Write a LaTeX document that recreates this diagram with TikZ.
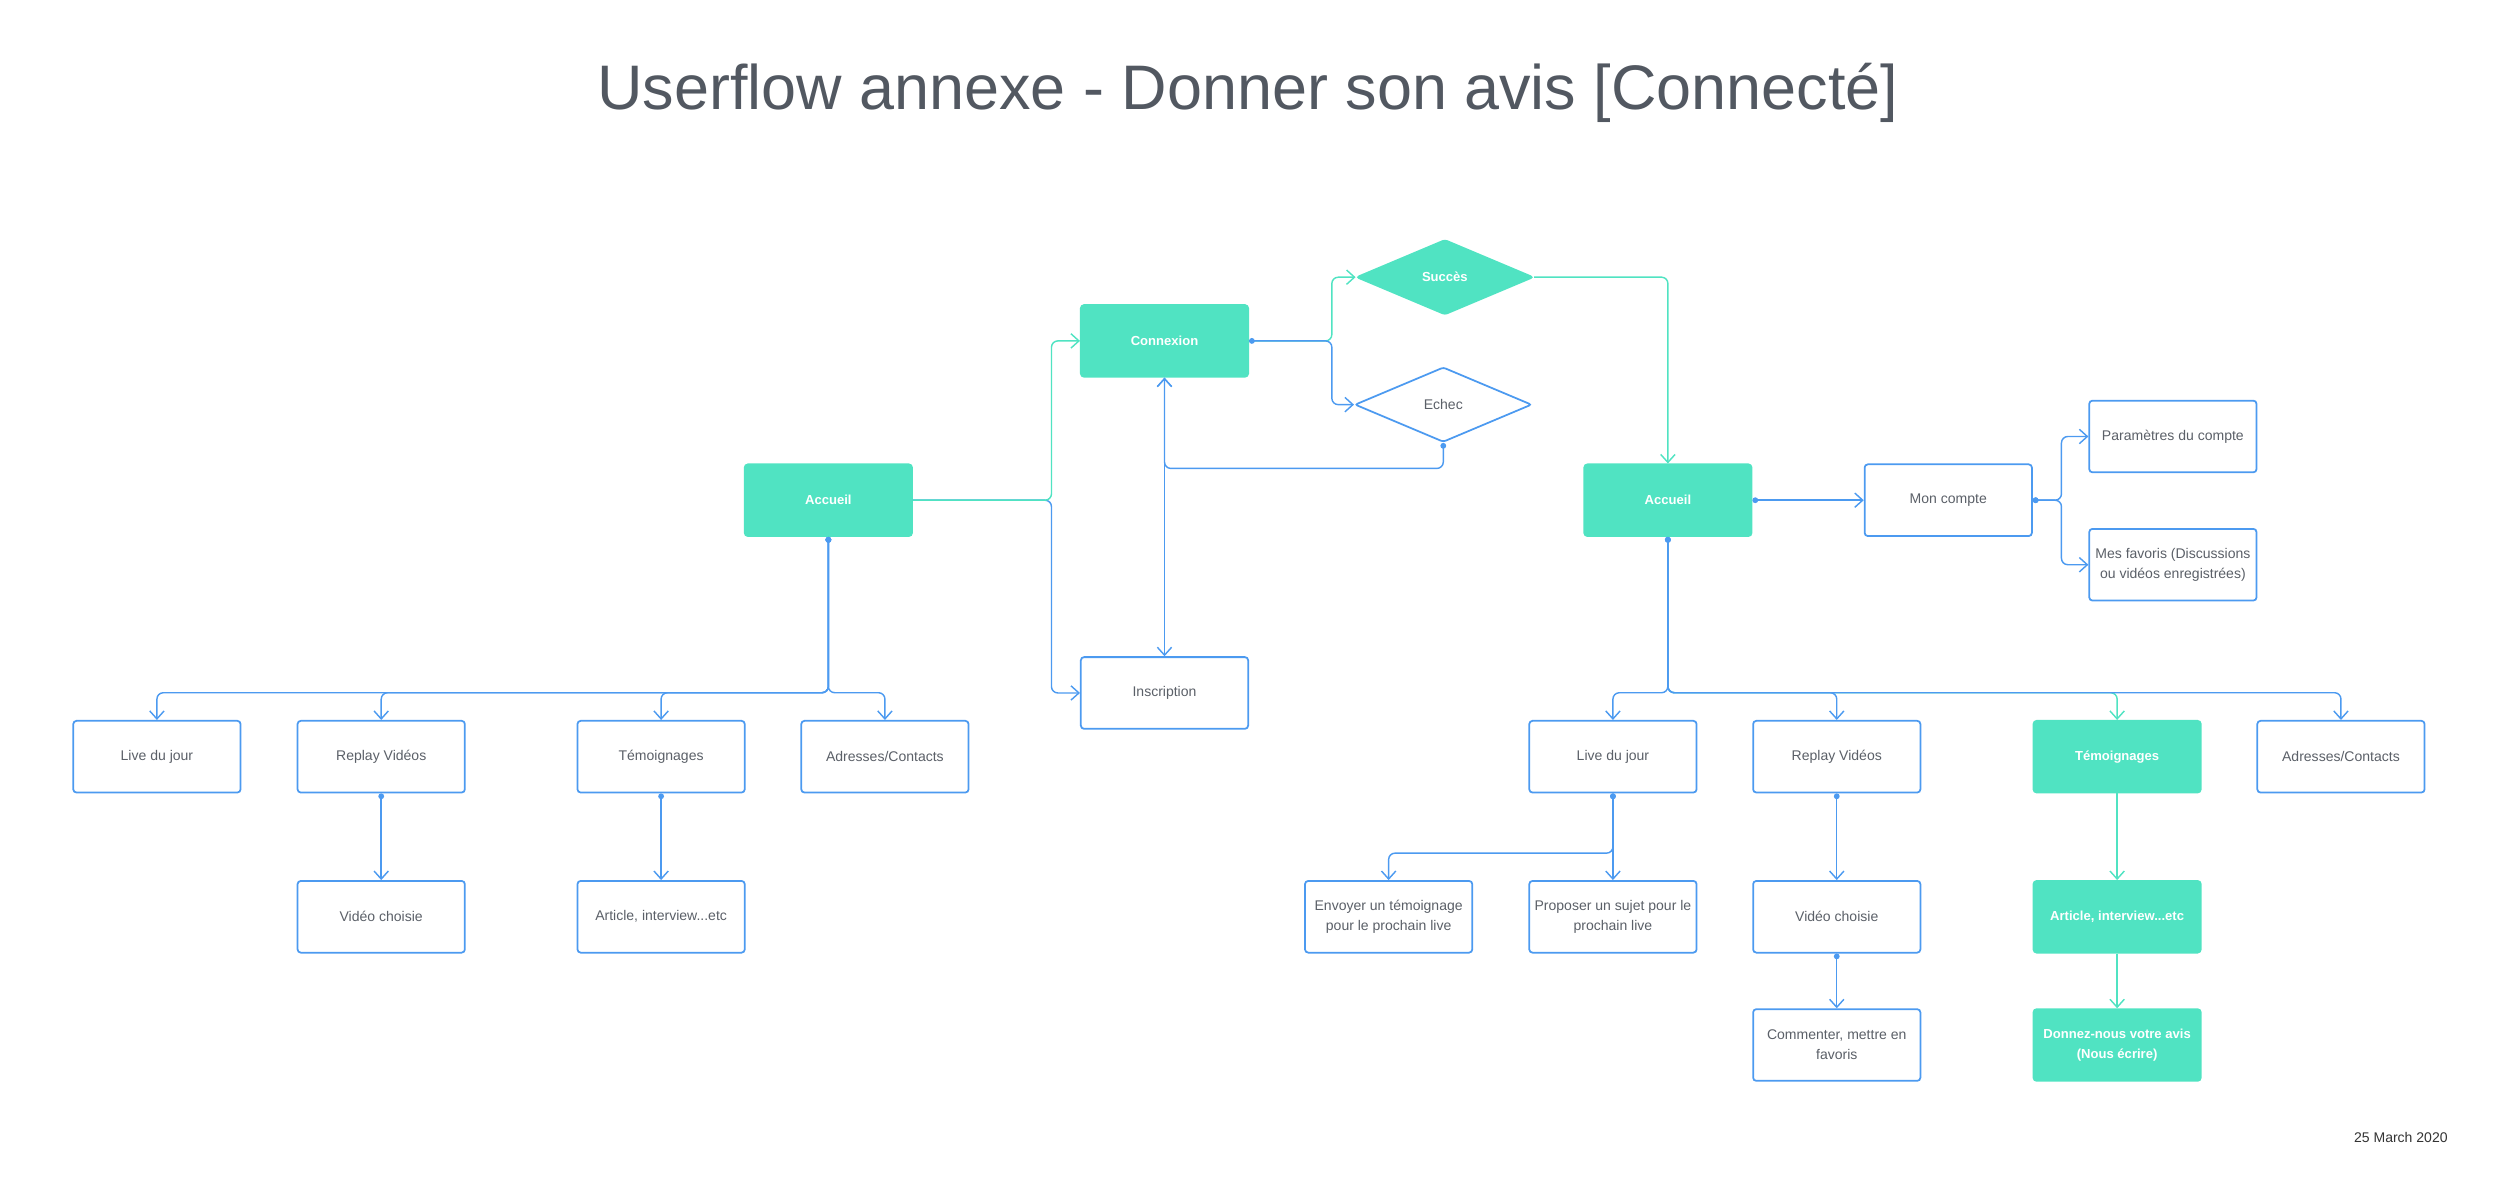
\documentclass[tikz,border=0pt]{standalone}
\usepackage{fontspec}
\setmainfont{Liberation Sans}
\usetikzlibrary{arrows.meta,shapes.geometric}
\definecolor{flowteal}{HTML}{50E3C2}
\definecolor{flowblue}{HTML}{4C9AF0}
\definecolor{flowtext}{HTML}{5B6068}
\definecolor{flowtitle}{HTML}{525861}

\begin{document}
\begin{tikzpicture}[x=1pt,y=-1pt,
    >={Straight Barb[length=5pt,width=9pt]},
    card/.style={draw=flowblue, line width=1.1pt, rounded corners=2pt, fill=white,
      text=flowtext, minimum width=105pt, minimum height=45pt, inner sep=1pt,
      align=center, font=\fontsize{8.8}{12.6}\selectfont},
    keycard/.style={card, draw=flowteal, fill=flowteal, text=white,
      font=\fontsize{8.2}{12.6}\selectfont\bfseries},
    choice/.style={diamond, draw=flowblue, line width=1.1pt, rounded corners=1.5pt,
      fill=white, text=flowtext, aspect=2.4, inner sep=0pt, minimum width=111pt,
      minimum height=47pt, font=\fontsize{8.8}{12.6}\selectfont},
    keychoice/.style={choice, draw=flowteal, fill=flowteal, text=white,
      font=\fontsize{8.2}{12.6}\selectfont\bfseries},
    link/.style={draw=flowblue, line width=0.9pt, rounded corners=4pt, ->},
    dlink/.style={link, {Circle[length=3.6pt]}->},
    keylink/.style={link, draw=flowteal}]
  \useasboundingbox (0,0) rectangle (1568.1,754.6);

  \node[anchor=base, text=flowtitle, font=\fontsize{39.5}{44}\selectfont] (title)
    at (783.3,68.6) {Userflow annexe - Donner son avis [Connecté]};
  \node[anchor=base east, text=black!80, font=\fontsize{8.8}{10}\selectfont] (date)
    at (1540,717) {25 March 2020};

  \node[keycard] (accL) at (520,314) {Accueil};
  \node[keycard] (cnx) at (731,214) {Connexion};
  \node[keychoice] (succes) at (907,174) {Succès};
  \node[choice] (echec) at (906,254) {Echec};
  \node[card] (insc) at (731,435) {Inscription};
  \node[keycard] (accR) at (1047,314) {Accueil};
  \node[card] (compte) at (1223,314) {Mon compte};
  \node[card] (param) at (1364,274) {Paramètres du compte};
  \node[card] (fav) at (1364,354.5) {Mes favoris (Discussions\\ou vidéos enregistrées)};

  \node[card] (liveL) at (98.5,475) {Live du jour};
  \node[card] (replayL) at (239.3,475) {Replay Vidéos};
  \node[card] (temL) at (415,475) {Témoignages};
  \node[card] (adrL) at (555.5,475) {Adresses/Contacts};
  \node[card] (videoL) at (239.3,575.5) {Vidéo choisie};
  \node[card] (artL) at (415,575.5) {Article, interview...etc};

  \node[card] (liveR) at (1012.5,475) {Live du jour};
  \node[card] (replayR) at (1153,475) {Replay Vidéos};
  \node[keycard] (temR) at (1329,475) {Témoignages};
  \node[card] (adrR) at (1469.5,475) {Adresses/Contacts};
  \node[card] (envoi) at (871.7,575.5) {Envoyer un témoignage\\pour le prochain live};
  \node[card] (sujet) at (1012.5,575.5) {Proposer un sujet pour le\\prochain live};
  \node[card] (videoR) at (1153,575.5) {Vidéo choisie};
  \node[keycard] (artR) at (1329,575.5) {Article, interview...etc};
  \node[card] (comm) at (1153,656) {Commenter, mettre en\\favoris};
  \node[keycard] (avis) at (1329,656) {Donnez-nous votre avis\\(Nous écrire)};

  \draw[link] (accL.east) -- ++(87,0) |- (insc.west);
  \draw[keylink] (accL.east) -- ++(87,0) |- (cnx.west);
  \draw[keylink] (cnx.east) -- ++(52,0) |- (succes.west);
  \draw[dlink] (cnx.east) -- ++(52,0) |- (echec.west);
  \draw[dlink] (echec.south) -- ++(0,16) -| (cnx.south);
  \draw[link, {Circle[length=3.6pt]}-{Straight Barb[length=5pt,width=9pt]}, <->] (cnx.south) -- (insc.north);
  \draw[keylink] (succes.east) -| (accR.north);
  \draw[dlink] (accR.east) -- (compte.west);
  \draw[dlink] (compte.east) -- ++(18,0) |- (param.west);
  \draw[dlink] (compte.east) -- ++(18,0) |- (fav.west);

  \foreach \n in {liveL,replayL,temL,adrL}
    \draw[dlink] (accL.south) -- ++(0,97.8) -| (\n.north);
  \draw[dlink] (replayL.south) -- (videoL.north);
  \draw[dlink] (temL.south) -- (artL.north);

  \draw[keylink] (accR.south) -- ++(0,97.8) -| (temR.north);
  \foreach \n in {liveR,replayR,adrR}
    \draw[dlink] (accR.south) -- ++(0,97.8) -| (\n.north);
  \draw[dlink] (liveR.south) -- ++(0,37.5) -| (envoi.north);
  \draw[dlink] (liveR.south) -- (sujet.north);
  \draw[dlink] (replayR.south) -- (videoR.north);
  \draw[dlink] (videoR.south) -- (comm.north);
  \draw[keylink] (temR.south) -- (artR.north);
  \draw[keylink] (artR.south) -- (avis.north);
\end{tikzpicture}
\end{document}
